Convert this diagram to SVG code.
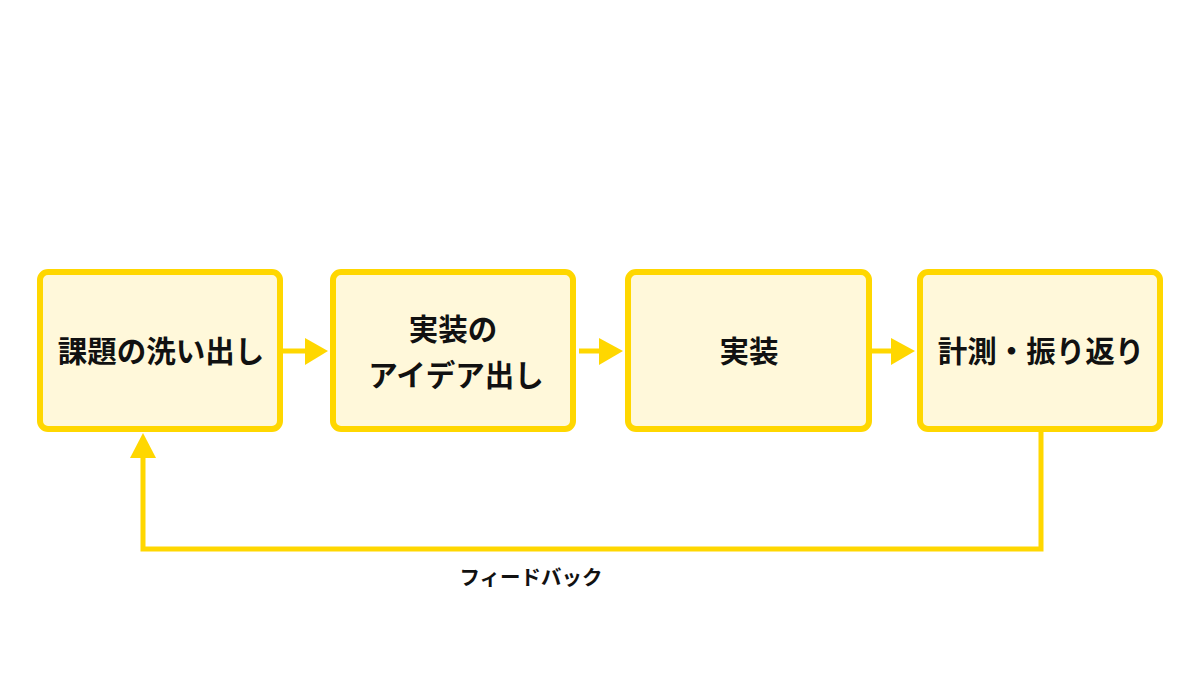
<svg xmlns="http://www.w3.org/2000/svg" width="1200" height="675" viewBox="0 0 1200 675">
<style>
.box{fill:#FFF8DA;stroke:#FFD700;stroke-width:6}
.lbl{font-family:"Noto Sans CJK JP","Noto Sans",sans-serif;font-weight:bold;font-size:29.5px;fill:#111;text-anchor:middle}
.small{font-family:"Noto Sans CJK JP","Noto Sans",sans-serif;font-weight:bold;font-size:20.5px;fill:#111;text-anchor:middle}
.ln{stroke:#FFD700;stroke-width:5;fill:none}
.hd{fill:#FFD700}
</style>
<rect width="1200" height="675" fill="#ffffff"/>
<g id="n1"><rect class="box" x="40" y="272" width="240" height="157" rx="8"/><text class="lbl" x="161" y="362">課題の洗い出し</text></g>
<g id="n2"><rect class="box" x="333" y="272" width="240" height="157" rx="8"/><text class="lbl" x="453" y="340">実装の</text><text class="lbl" x="456" y="386">アイデア出し</text></g>
<g id="n3"><rect class="box" x="628" y="272" width="241" height="157" rx="8"/><text class="lbl" x="749" y="362">実装</text></g>
<g id="n4"><rect class="box" x="920" y="272" width="240" height="157" rx="8"/><text class="lbl" x="1041" y="362">計測・振り返り</text></g>
<g id="connectors">
<line class="ln" x1="283" y1="351" x2="308" y2="351"/><polygon class="hd" points="305,338 328,351 305,365"/>
<line class="ln" x1="579" y1="351" x2="601" y2="351"/><polygon class="hd" points="599,338 623,351 599,365"/>
<line class="ln" x1="872" y1="351" x2="893" y2="351"/><polygon class="hd" points="891,338 915,351 891,365"/>
<polyline class="ln" points="1041,432 1041,549 143,549 143,456"/><polygon class="hd" points="130,458 143,433 156,458"/>
<text class="small" x="531" y="585">フィードバック</text>
</g>
</svg>
